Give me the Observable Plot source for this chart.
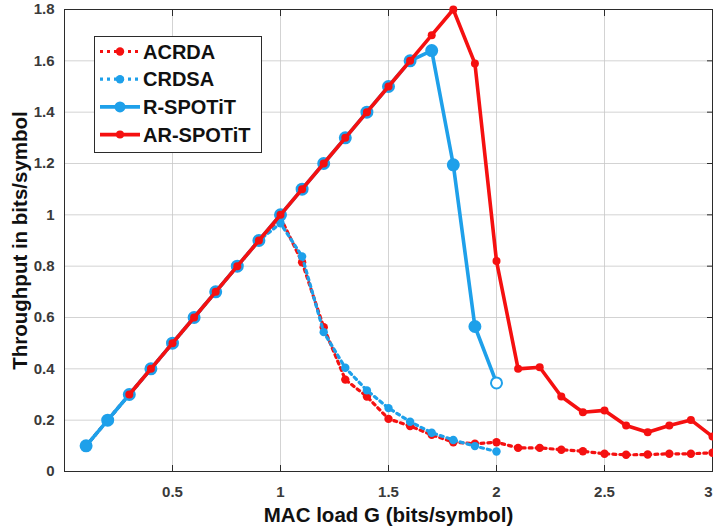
<!DOCTYPE html>
<html>
<head>
<meta charset="utf-8">
<script src="https://cdn.jsdelivr.net/npm/d3@7"></script>
<script src="https://cdn.jsdelivr.net/npm/@observablehq/plot@0.6"></script>
<style>
  html, body { margin: 0; padding: 0; background: #fff; }
  #wrap { position: relative; width: 713px; height: 527px; }
  #legend { position: absolute; left: 94px; top: 36px; }
</style>
</head>
<body>
<div id="wrap"></div>
<script>
// ---- data ----
const loadG = [0.1,0.2,0.3,0.4,0.5,0.6,0.7,0.8,0.9,1.0,1.1,1.2,1.3,1.4,1.5,1.6,1.7,1.8,1.9,2.0,2.1,2.2,2.3,2.4,2.5,2.6,2.7,2.8,2.9,3.0];
const acrdaG = loadG;
const acrdaY = [0.1,0.2,0.3,0.4,0.5,0.6,0.7,0.8,0.9,0.99,0.815,0.562,0.358,0.292,0.205,0.177,0.143,0.114,0.108,0.114,0.092,0.092,0.085,0.079,0.069,0.065,0.066,0.069,0.069,0.073];
const crdsaG = [0.1,0.2,0.3,0.4,0.5,0.6,0.7,0.8,0.9,1.0,1.1,1.2,1.3,1.4,1.5,1.6,1.7,1.8,1.9,2.0];
const crdsaY = [0.1,0.2,0.3,0.4,0.5,0.6,0.7,0.8,0.9,0.967,0.838,0.543,0.404,0.316,0.247,0.194,0.151,0.123,0.099,0.078];
const rspotitG = [0.1,0.2,0.3,0.4,0.5,0.6,0.7,0.8,0.9,1.0,1.1,1.2,1.3,1.4,1.5,1.6,1.7,1.8,1.9,2.0];
const rspotitY = [0.1,0.2,0.3,0.4,0.5,0.6,0.7,0.8,0.9,1.0,1.1,1.2,1.3,1.4,1.5,1.6,1.64,1.195,0.565,0.345];
const arspotitG = [0.3,0.4,0.5,0.6,0.7,0.8,0.9,1.0,1.1,1.2,1.3,1.4,1.5,1.6,1.7,1.8,1.9,2.0,2.1,2.2,2.3,2.4,2.5,2.6,2.7,2.8,2.9,3.0];
const arspotitY = [0.3,0.4,0.5,0.6,0.7,0.8,0.9,1.0,1.1,1.2,1.3,1.4,1.5,1.6,1.7,1.8,1.59,0.82,0.40,0.406,0.292,0.231,0.238,0.179,0.153,0.179,0.201,0.136];
const seriesNames = ["ACRDA", "CRDSA", "R-SPOTiT", "AR-SPOTiT"];
const xTicks = [0.5, 1, 1.5, 2, 2.5, 3];
const yTicks = [0, 0.2, 0.4, 0.6, 0.8, 1, 1.2, 1.4, 1.6, 1.8];

const RED = "#f51010";
const BLUE = "#1ea0ea";
const FONT = "'Liberation Sans', Arial, sans-serif";

const toRows = (gs, ys) => gs.map((g, i) => ({g, y: ys[i], last: i === gs.length - 1}));
const acrda = toRows(acrdaG, acrdaY);
const crdsa = toRows(crdsaG, crdsaY);
const rsp = toRows(rspotitG, rspotitY);
const arsp = toRows(arspotitG, arspotitY);

const tickLabelOpts = {anchor: "bottom", tickSize: 0, tickPadding: 15, fontSize: 15, fontWeight: "bold",
  fill: "#3a3a3a", label: null, tickFormat: d => String(d)};

const chart = Plot.plot({
  width: 713,
  height: 527,
  marginLeft: 64,
  marginRight: 1,
  marginTop: 9,
  marginBottom: 56,
  style: {fontFamily: FONT, background: "#fff"},
  x: {domain: [0, 3]},
  y: {domain: [0, 1.8]},
  marks: [
    Plot.gridX(xTicks.slice(0, 5), {stroke: "#c8c8c8", strokeOpacity: 0.8}),
    Plot.gridY(yTicks.slice(1, 9), {stroke: "#c8c8c8", strokeOpacity: 0.8}),
    Plot.frame({stroke: "#2b2b2b", strokeWidth: 1}),
    Plot.axisX(xTicks, {anchor: "bottom", tickSize: -6, tickFormat: () => "", label: null, stroke: "#2b2b2b"}),
    Plot.axisX(xTicks.slice(0, 5), tickLabelOpts),
    Plot.axisX(xTicks.slice(5), {...tickLabelOpts, dx: -4}),
    Plot.axisX(xTicks, {anchor: "top", tickSize: -6, tickFormat: () => "", label: null, stroke: "#2b2b2b"}),
    Plot.axisY(yTicks, {anchor: "left", tickSize: 0, tickPadding: 10, fontSize: 15, fontWeight: "bold",
      fill: "#3a3a3a", label: null, tickFormat: d => String(d)}),
    Plot.axisY(yTicks, {anchor: "right", tickSize: -6, tickFormat: () => "", label: null, stroke: "#2b2b2b"}),
    Plot.text(["MAC load G (bits/symbol)"], {frameAnchor: "bottom", dy: 50, fontSize: 20.5, fontWeight: "bold", fill: "#111"}),
    Plot.text(["Throughput in bits/symbol"], {frameAnchor: "left", dx: -44, rotate: -90, textAnchor: "middle",
      fontSize: 20.5, fontWeight: "bold", fill: "#111"}),
    // ACRDA
    Plot.line(acrda, {x: "g", y: "y", stroke: RED, strokeWidth: 3.2, strokeDasharray: "3,4"}),
    Plot.dot(acrda, {x: "g", y: "y", r: 4.2, fill: RED}),
    // CRDSA
    Plot.line(crdsa, {x: "g", y: "y", stroke: BLUE, strokeWidth: 3.2, strokeDasharray: "3,4"}),
    Plot.dot(crdsa, {x: "g", y: "y", r: 4.2, fill: BLUE}),
    // R-SPOTiT
    Plot.line(rsp, {x: "g", y: "y", stroke: BLUE, strokeWidth: 3.6}),
    Plot.dot(rsp, {x: "g", y: "y", r: 5.5, fill: d => d.last ? "#fff" : BLUE, stroke: BLUE, strokeWidth: 2}),
    // AR-SPOTiT
    Plot.line(arsp, {x: "g", y: "y", stroke: RED, strokeWidth: 3.6}),
    Plot.dot(arsp, {x: "g", y: "y", r: 4, fill: RED})
  ]
});
const wrap = document.getElementById("wrap");
wrap.appendChild(chart);

// legend
const legendStyles = [
  {color: RED, dash: "3,4", r: 4.2, width: 3.2},
  {color: BLUE, dash: "3,4", r: 4.2, width: 3.2},
  {color: BLUE, dash: null, r: 5.5, width: 3.6},
  {color: RED, dash: null, r: 4, width: 3.6}
];
const lw = 168, lh = 117;
const lsvg = d3.create("svg").attr("id", "legend").attr("width", lw).attr("height", lh);
lsvg.append("rect").attr("x", 0.5).attr("y", 0.5).attr("width", lw - 1).attr("height", lh - 1)
  .attr("fill", "#fff").attr("stroke", "#2b2b2b").attr("stroke-width", 1);
seriesNames.forEach((name, i) => {
  const st = legendStyles[i];
  const cy = 15.5 + i * 27.7;
  const g = lsvg.append("g");
  g.append("line").attr("x1", 6).attr("x2", 46).attr("y1", cy).attr("y2", cy)
    .attr("stroke", st.color).attr("stroke-width", st.width)
    .attr("stroke-dasharray", st.dash);
  g.append("circle").attr("cx", 26).attr("cy", cy).attr("r", st.r).attr("fill", st.color);
  g.append("text").attr("x", 49).attr("y", cy + 7).text(name)
    .attr("font-family", FONT).attr("font-size", 20).attr("font-weight", "bold").attr("fill", "#111");
});
wrap.appendChild(lsvg.node());
</script>
</body>
</html>
